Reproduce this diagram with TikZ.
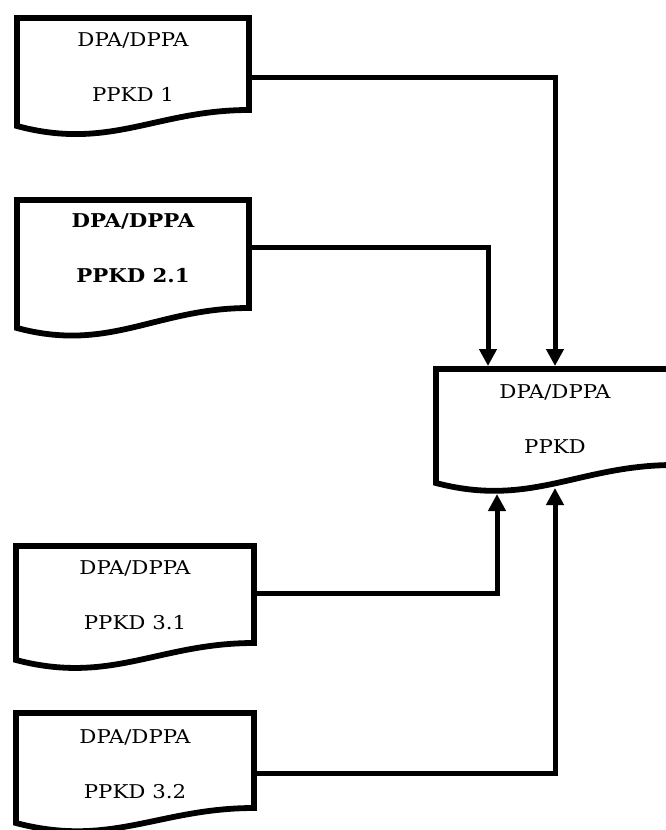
\documentclass[tikz,border=0pt]{standalone}
\usepackage{fontspec}
\setmainfont{DejaVu Serif}[FakeStretch=1.12]
\usetikzlibrary{arrows.meta}
\newcommand\drawdoc[5]{% left, top, right, right-bottom, left-bottom
  \draw[docline] (#1,#2) -- (#3,#2) -- (#3,#4)
    .. controls ({#1+0.6*(#3-#1)},#4) and ({#1+0.4*(#3-#1)},#5+25) .. (#1,#5) -- cycle;}
\begin{document}
\begin{tikzpicture}[x=1pt,y=-1pt,
  docline/.style={draw=black,line width=5.8pt,fill=white,line join=miter},
  lbl/.style={align=center,font=\fontsize{19}{55}\selectfont,inner sep=0pt},
  conn/.style={draw=black,line width=5pt,-{Triangle[length=17pt,width=17pt]}}]
\clip (0,0) rectangle (666,830);
\fill[white] (0,0) rectangle (666,830);
% document shapes
\drawdoc{17}{18}{249}{110}{126}
\drawdoc{17}{200}{249}{308}{328}
\drawdoc{16}{546}{254}{643}{660}
\drawdoc{16}{713}{254}{808}{823}
\drawdoc{436}{369}{674}{465}{483}
% labels
\node[lbl] (d1) at (133,67) {DPA/DPPA\\PPKD 1};
\node[lbl,font=\fontsize{19}{55}\selectfont\bfseries] (d2) at (133,248.5) {DPA/DPPA\\PPKD 2.1};
\node[lbl] (d31) at (135,595) {DPA/DPPA\\PPKD 3.1};
\node[lbl] (d32) at (135,764.5) {DPA/DPPA\\PPKD 3.2};
\node[lbl] (dp) at (555,419.5) {DPA/DPPA\\PPKD};
% connector ends
\coordinate (o1) at (249,77);  \coordinate (i1) at (555,366);
\coordinate (o2) at (249,247); \coordinate (i2) at (488,366);
\coordinate (o3) at (254,593); \coordinate (i3) at (497,494);
\coordinate (o4) at (254,773); \coordinate (i4) at (555,488);
\draw[conn] (o1) -| (i1);
\draw[conn] (o2) -| (i2);
\draw[conn] (o3) -| (i3);
\draw[conn] (o4) -| (i4);
\end{tikzpicture}
\end{document}
